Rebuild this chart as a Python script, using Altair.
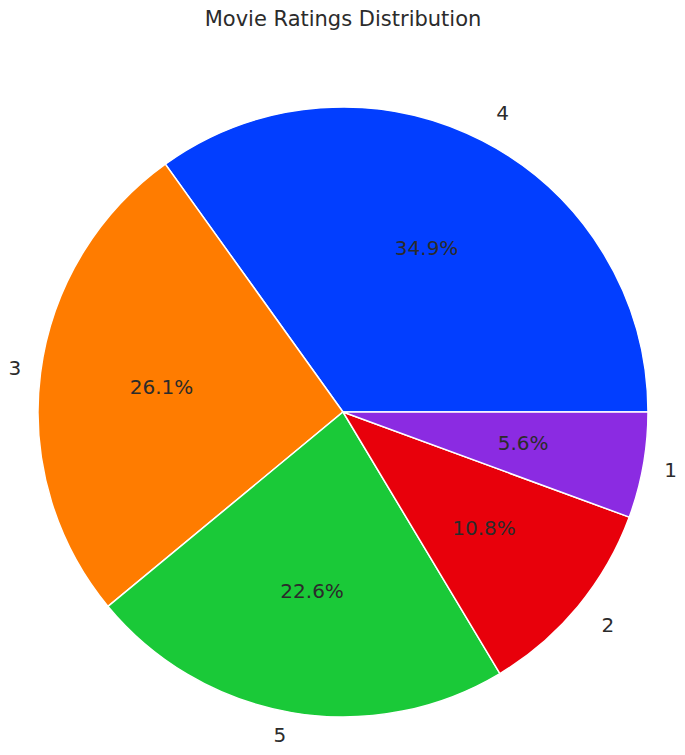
import math
import altair as alt
import pandas as pd

ratings = ["4", "3", "5", "2", "1"]
percents = [34.9, 26.1, 22.6, 10.8, 5.6]
colors = ["#023eff", "#ff7c00", "#1ac938", "#e8000b", "#8b2be2"]
draw_order = [5, 4, 3, 2, 1]  # Vega draws clockwise; "1" first, "4" last

df = pd.DataFrame({"rating": ratings, "pct": percents, "ord": draw_order})

W, H = 669, 739
CX, CY, R = 335, 404, 305
FONT = "DejaVu Sans"
TXT = "#2b2b2b"
A0 = -1.5 * math.pi

tscale = alt.Scale(domain=[0, 100], range=[A0, 0.5 * math.pi])
color = alt.Color("rating:N", scale=alt.Scale(domain=ratings, range=colors), legend=None)

base = alt.Chart(df).transform_window(
    cum="sum(pct)", sort=[alt.SortField("ord", order="ascending")], frame=[None, 0]
).transform_calculate(
    start="datum.cum - datum.pct",
    mid="datum.cum - datum.pct / 2",
    label="format(datum.pct, '.1f') + '%'",
).transform_calculate(
    sx=f"sin({A0} + datum.mid / 100 * 2 * PI)",
    sy=f"-cos({A0} + datum.mid / 100 * 2 * PI)",
)

pos = dict(x=alt.value(CX), y=alt.value(CY))
mid_theta = alt.Theta("mid:Q", scale=tscale, stack=None)

pie = base.mark_arc(radius=R, stroke="white", strokeWidth=1.5).encode(
    theta=alt.Theta("start:Q", scale=tscale, stack=None),
    theta2="cum:Q",
    color=color, **pos,
)

pct_text = base.mark_text(radius=0.6 * R, font=FONT, fontSize=20, color=TXT,
                          align="center", baseline="middle").encode(
    theta=mid_theta, text="label:N", **pos,
)


def cat_layer(cond, align, dx=0, dy=0):
    return base.transform_filter(cond).mark_text(
        radius=1.1 * R, font=FONT, fontSize=20, color=TXT, align=align,
        baseline="middle", dx=dx, dy=dy,
    ).encode(theta=mid_theta, text="rating:N", **pos)


# labels near the page edges are nudged inward so they stay visible
cat_layers = [
    cat_layer("datum.sx >= 0 && datum.sx < 0.9", "left"),
    cat_layer("datum.sx >= 0.9", "left", dx=-9),
    cat_layer("datum.sx < 0 && datum.sx >= -0.9 && datum.sy < 0.9", "right"),
    cat_layer("datum.sx < 0 && datum.sx >= -0.9 && datum.sy >= 0.9", "right", dy=-7),
    cat_layer("datum.sx < -0.9", "right", dx=11),
]

title = alt.Chart(pd.DataFrame({"t": ["Movie Ratings Distribution"]})).mark_text(
    font=FONT, fontSize=21, color=TXT, align="center", baseline="alphabetic"
).encode(text="t:N", x=alt.value(CX), y=alt.value(18))

chart = alt.layer(pie, pct_text, *cat_layers, title).properties(
    width=W, height=H, padding=0, autosize=alt.AutoSizeParams(type="none")
).configure_view(stroke=None)

chart.save("out.html", embed_options={"renderer": "svg", "actions": False})
